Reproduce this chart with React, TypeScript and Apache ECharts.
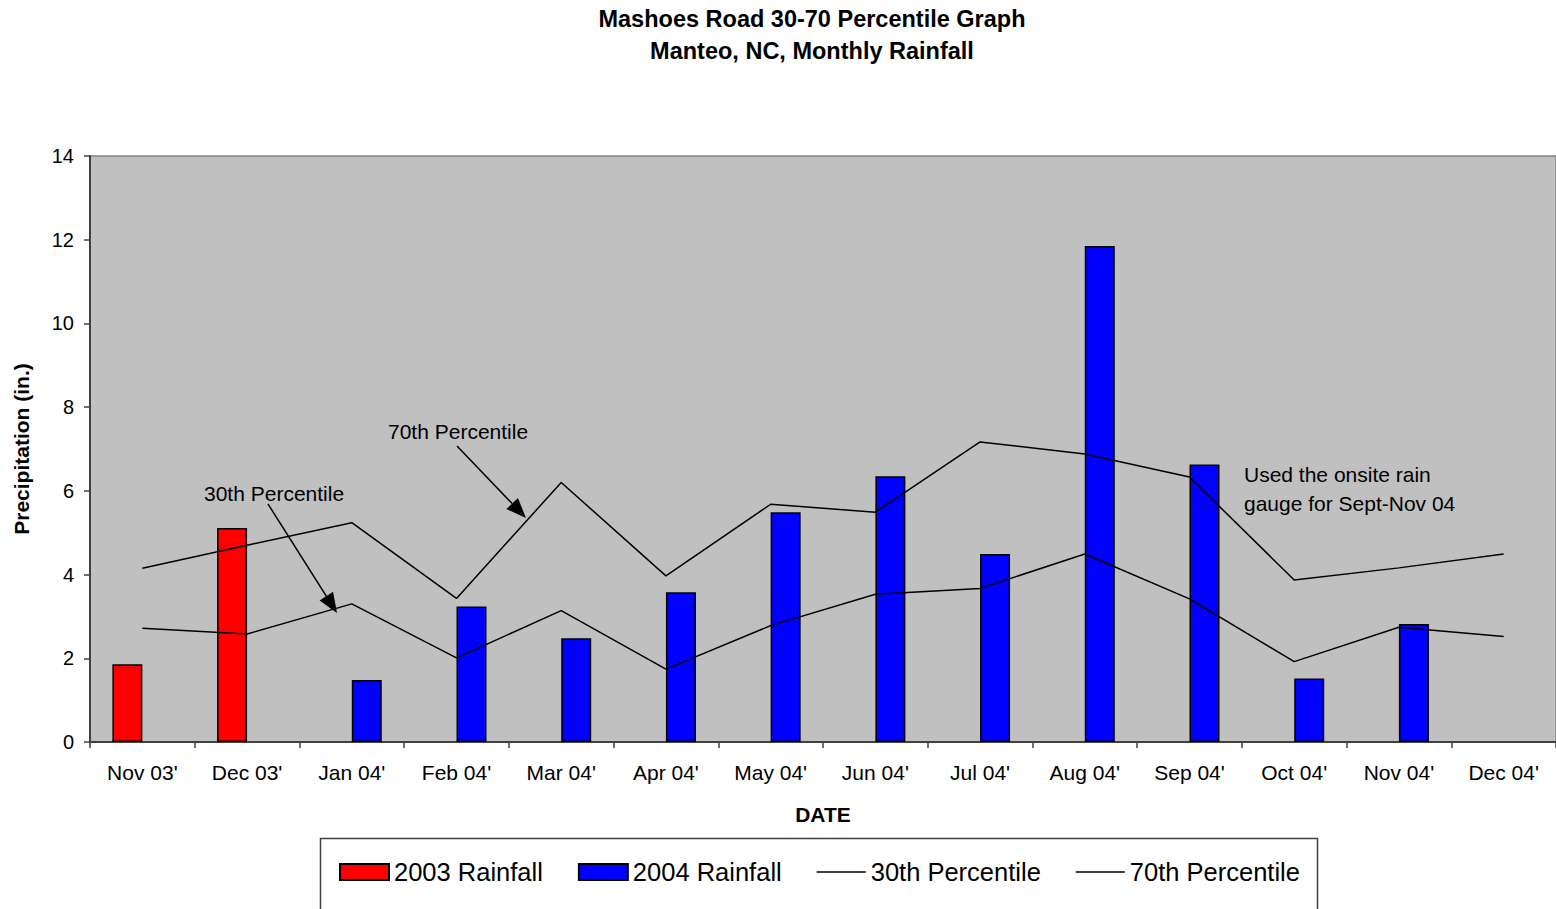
import React, { useEffect, useRef } from "react";
import * as echarts from "echarts";

const categories = ["Nov 03'", "Dec 03'", "Jan 04'", "Feb 04'", "Mar 04'", "Apr 04'", "May 04'", "Jun 04'", "Jul 04'", "Aug 04'", "Sep 04'", "Oct 04'", "Nov 04'", "Dec 04'"];
const rain2003 = [1.86, 5.11, null, null, null, null, null, null, null, null, null, null, null, null];
const rain2004 = [null, null, 1.48, 3.24, 2.48, 3.58, 5.49, 6.35, 4.49, 11.85, 6.63, 1.52, 2.82, null];
const pct30 = [2.72, 2.58, 3.3, 2.01, 3.14, 1.74, 2.78, 3.53, 3.67, 4.49, 3.42, 1.92, 2.74, 2.52];
const pct70 = [4.15, 4.7, 5.24, 3.43, 6.2, 3.97, 5.68, 5.49, 7.17, 6.88, 6.33, 3.87, 4.16, 4.49];
const yMin = 0;
const yMax = 14;
const yInterval = 2;

const FONT = "'Liberation Sans', Arial, sans-serif";
const LINE_ICON = "path://M0,0 L49,0 L49,1.6 L0,1.6 Z";

function arrow(x1: number, y1: number, x2: number, y2: number, len = 20, half = 8) {
  const dx = x2 - x1;
  const dy = y2 - y1;
  const L = Math.hypot(dx, dy);
  const ux = dx / L;
  const uy = dy / L;
  const bx = x2 - ux * len;
  const by = y2 - uy * len;
  const px = -uy;
  const py = ux;
  return [
    { type: "line", z: 100, shape: { x1, y1, x2: bx, y2: by }, style: { stroke: "#000", lineWidth: 1.5 } },
    {
      type: "polygon",
      z: 100,
      shape: { points: [[x2, y2], [bx + px * half, by + py * half], [bx - px * half, by - py * half]] },
      style: { fill: "#000" },
    },
  ];
}

export default function App() {
  const ref = useRef<HTMLDivElement>(null);
  useEffect(() => {
    document.body.style.margin = "0";
    const chart = echarts.init(ref.current!, null, { renderer: "svg" });
    const option: any = {
      animation: false,
      backgroundColor: "#ffffff",
      textStyle: { fontFamily: FONT },
      title: {
        text: "Mashoes Road 30-70 Percentile Graph\nManteo, NC, Monthly Rainfall",
        left: 812,
        textAlign: "center",
        top: 3,
        padding: 0,
        textStyle: { fontFamily: FONT, fontSize: 23.5, fontWeight: "bold", color: "#000", lineHeight: 32 },
      },
      grid: {
        left: 90,
        top: 156,
        width: 1469,
        height: 586,
        show: true,
        backgroundColor: "#C0C0C0",
        borderColor: "#808080",
        borderWidth: 1.5,
      },
      legend: {
        left: 339,
        top: 859,
        padding: 0,
        itemWidth: 49,
        itemHeight: 16,
        itemGap: 35,
        textStyle: { fontFamily: FONT, fontSize: 25.5, color: "#000" },
        data: [
          { name: "2003 Rainfall", icon: "rect" },
          { name: "2004 Rainfall", icon: "rect" },
          { name: "30th Percentile", icon: LINE_ICON, itemStyle: { color: "#000", borderWidth: 0 } },
          { name: "70th Percentile", icon: LINE_ICON, itemStyle: { color: "#000", borderWidth: 0 } },
        ],
      },
      xAxis: {
        type: "category",
        data: categories,
        name: "DATE",
        nameLocation: "middle",
        nameGap: 62,
        nameTextStyle: { fontFamily: FONT, fontSize: 21, fontWeight: "bold", color: "#000" },
        axisLine: { lineStyle: { color: "#404040", width: 2 } },
        axisTick: { show: true, length: 6, interval: 0, lineStyle: { color: "#404040", width: 1.5 } },
        axisLabel: { fontFamily: FONT, fontSize: 21, color: "#000", margin: 20, interval: 0 },
        splitLine: { show: false },
      },
      yAxis: {
        type: "value",
        min: yMin,
        max: yMax,
        interval: yInterval,
        name: "Precipitation (in.)",
        nameLocation: "middle",
        nameGap: 58,
        nameTextStyle: { fontFamily: FONT, fontSize: 21, fontWeight: "bold", color: "#000" },
        axisLine: { show: true, lineStyle: { color: "#404040", width: 2 } },
        axisTick: { show: true, length: 6, lineStyle: { color: "#404040", width: 1.5 } },
        axisLabel: { fontFamily: FONT, fontSize: 20, color: "#000", margin: 16 },
        splitLine: { show: false },
      },
      series: [
        {
          name: "2003 Rainfall",
          type: "bar",
          data: rain2003,
          barWidth: 30,
          barGap: "0%",
          itemStyle: { color: "#FF0000", borderColor: "#000", borderWidth: 1.5 },
          z: 2,
        },
        {
          name: "2004 Rainfall",
          type: "bar",
          data: rain2004,
          barWidth: 30,
          barGap: "0%",
          itemStyle: { color: "#0000FF", borderColor: "#000", borderWidth: 1.5 },
          z: 2,
        },
        {
          name: "30th Percentile",
          type: "line",
          data: pct30,
          symbol: "none",
          itemStyle: { color: "#000" },
          lineStyle: { color: "#000", width: 1.5 },
          z: 5,
        },
        {
          name: "70th Percentile",
          type: "line",
          data: pct70,
          symbol: "none",
          itemStyle: { color: "#000" },
          lineStyle: { color: "#000", width: 1.5 },
          z: 5,
        },
      ],
      graphic: [
        {
          type: "rect",
          z: 50,
          shape: { x: 320.5, y: 838.5, width: 997, height: 100 },
          style: { fill: "none", stroke: "#404040", lineWidth: 1.5 },
        },
        {
          type: "text",
          z: 100,
          x: 388,
          y: 431,
          style: { text: "70th Percentile", fontFamily: FONT, fontSize: 21, fill: "#000", verticalAlign: "middle" },
        },
        {
          type: "text",
          z: 100,
          x: 204,
          y: 493,
          style: { text: "30th Percentile", fontFamily: FONT, fontSize: 21, fill: "#000", verticalAlign: "middle" },
        },
        {
          type: "text",
          z: 100,
          x: 1244,
          y: 460,
          style: {
            text: "Used the onsite rain\ngauge for Sept-Nov 04",
            fontFamily: FONT,
            fontSize: 21,
            lineHeight: 29,
            fill: "#000",
            verticalAlign: "top",
          },
        },
        ...arrow(457, 446, 526, 518),
        ...arrow(268, 504, 337, 613),
      ],
    };
    chart.setOption(option);
    return () => chart.dispose();
  }, []);
  return <div ref={ref} style={{ width: 1556, height: 909 }} />;
}
